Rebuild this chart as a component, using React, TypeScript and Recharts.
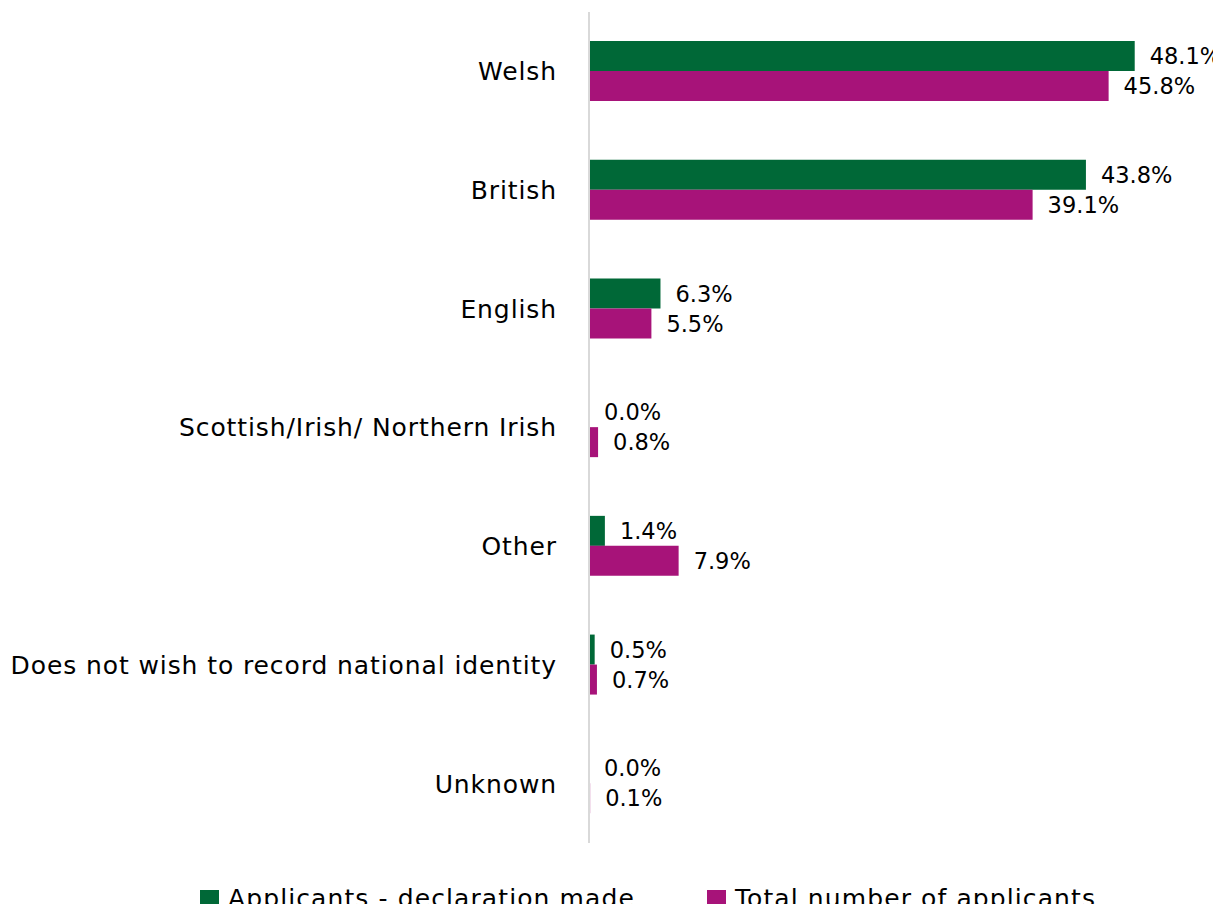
import { Bar, BarChart, LabelList, XAxis, YAxis } from "recharts";

const categories = [
  "Welsh",
  "British",
  "English",
  "Scottish/Irish/ Northern Irish",
  "Other",
  "Does not wish to record national identity",
  "Unknown",
];
const declared = [48.1, 43.8, 6.3, 0.0, 1.4, 0.5, 0.0];
const total = [45.8, 39.1, 5.5, 0.8, 7.9, 0.7, 0.1];

const GREEN = "#006837";
const MAGENTA = "#A71379";
const FONT = "'DejaVu Sans', sans-serif";

const data = categories.map((name, i) => ({ name, declared: declared[i], total: total[i] }));

// zero bars get a hairline so their label still renders
const keepZero = (v: any) => (Number(v) === 0 ? 0.01 : 0);

function ValueLabel(props: any) {
  const { x, y, width, height, value } = props;
  return (
    <text
      x={Number(x) + Number(width) + 15}
      y={Number(y) + Number(height) / 2}
      dy="0.36em"
      fill="#000"
      fontSize={22.5}
      fontFamily={FONT}
    >
      {`${Number(value).toFixed(1)}%`}
    </text>
  );
}

function LegendBox() {
  const items = [
    { label: "Applicants - declaration made", color: GREEN },
    { label: "Total number of applicants", color: MAGENTA },
  ];
  return (
    <div
      style={{
        position: "absolute",
        left: 192,
        top: 877,
        display: "flex",
        gap: 72,
        fontFamily: FONT,
        fontSize: 25,
        letterSpacing: 1.1,
        color: "#000",
        lineHeight: "28px",
        whiteSpace: "nowrap",
      }}
    >
      {items.map((it) => (
        <div key={it.label} style={{ display: "flex", alignItems: "center" }}>
          <span style={{ width: 19, height: 19, background: it.color, marginRight: 9, display: "inline-block" }} />
          <span>{it.label}</span>
        </div>
      ))}
    </div>
  );
}

export default function App() {
  return (
    <div style={{ width: 1213, height: 896, position: "relative" }}>
      <BarChart
        width={1213}
        height={896}
        data={data}
        layout="vertical"
        margin={{ top: 4, right: 8, bottom: 61, left: 0 }}
        barCategoryGap="24%"
        barGap={0}
      >
        <XAxis type="number" domain={[0, 55]} hide />
        <YAxis
          type="category"
          dataKey="name"
          width={581}
          tickLine={false}
          tickSize={0}
          tickMargin={32}
          axisLine={{ stroke: "#d9d9d9", strokeWidth: 2 }}
          tick={{ fill: "#000", fontSize: 25, fontFamily: FONT, letterSpacing: 0.9 }}
        />
        <Bar dataKey="declared" fill={GREEN} barSize={30} minPointSize={keepZero} isAnimationActive={false}>
          <LabelList dataKey="declared" content={ValueLabel} />
        </Bar>
        <Bar dataKey="total" fill={MAGENTA} barSize={30} minPointSize={keepZero} isAnimationActive={false}>
          <LabelList dataKey="total" content={ValueLabel} />
        </Bar>
      </BarChart>
      <LegendBox />
    </div>
  );
}
